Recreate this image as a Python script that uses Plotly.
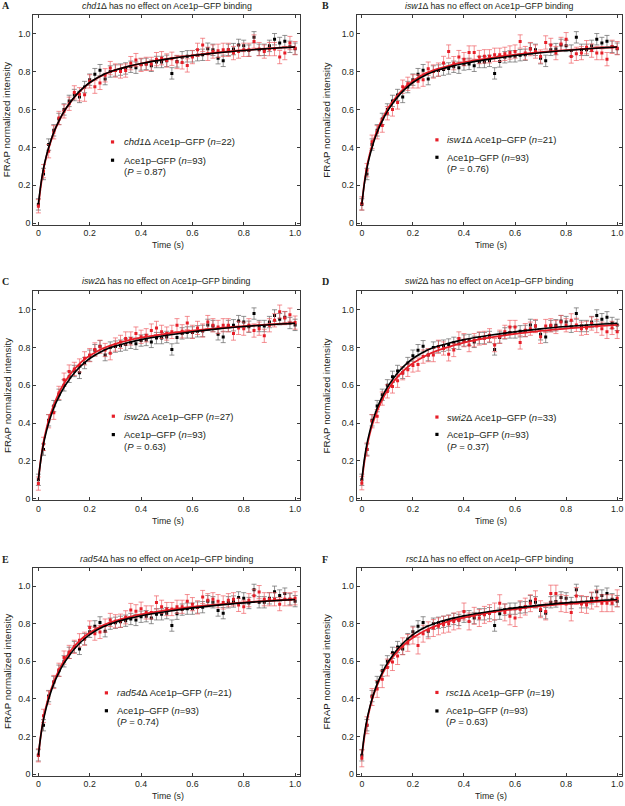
import plotly.graph_objects as go

# ---------------- data ----------------
TIME = [0.00, 0.02, 0.04, 0.06, 0.08, 0.10, 0.12, 0.14, 0.16, 0.18,
        0.20, 0.22, 0.24, 0.26, 0.28, 0.30, 0.32, 0.34, 0.36, 0.38,
        0.40, 0.42, 0.44, 0.46, 0.48, 0.50, 0.52, 0.54, 0.56, 0.58,
        0.60, 0.62, 0.64, 0.66, 0.68, 0.70, 0.72, 0.74, 0.76, 0.78,
        0.80, 0.82, 0.84, 0.86, 0.88, 0.90, 0.92, 0.94, 0.96, 0.98, 1.00]

FIT_TIME = [0.00, 0.01, 0.02, 0.03, 0.04, 0.06, 0.08, 0.10, 0.12, 0.14, 0.16, 0.18,
            0.20, 0.25, 0.30, 0.35, 0.40, 0.50, 0.60, 0.70, 0.80, 0.90, 1.00]

# wild-type Ace1p-GFP (n=93), same in all panels
WT = [0.10, 0.26, 0.415, 0.49, 0.55, 0.60, 0.645, 0.676, 0.666, 0.718,
      0.757, 0.786, 0.807, 0.76, 0.80, 0.805, 0.81, 0.816, 0.825, 0.82,
      0.837, 0.84, 0.83, 0.85, 0.85, 0.856, 0.79, 0.853, 0.875, 0.88,
      0.88, 0.886, 0.888, 0.92, 0.914, 0.87, 0.856, 0.914, 0.918, 0.94,
      0.935, 0.91, 0.98, 0.914, 0.914, 0.935, 0.97, 0.95, 0.96, 0.93, 0.92]
WT_FIT = [0.10, 0.21, 0.29, 0.35, 0.40, 0.48, 0.54, 0.59, 0.63, 0.665, 0.695, 0.72,
          0.742, 0.782, 0.808, 0.827, 0.842, 0.865, 0.884, 0.899, 0.911, 0.921, 0.929]
WT_ERR = 0.03

MUT_CHD1 = [0.09, 0.275, 0.38, 0.48, 0.555, 0.59, 0.63, 0.69, 0.68, 0.678,
            0.748, 0.72, 0.74, 0.78, 0.818, 0.805, 0.80, 0.805, 0.844, 0.86,
            0.835, 0.84, 0.84, 0.865, 0.87, 0.858, 0.867, 0.85, 0.848, 0.832,
            0.876, 0.914, 0.94, 0.893, 0.905, 0.909, 0.914, 0.914, 0.897, 0.905,
            0.914, 0.914, 0.958, 0.918, 0.905, 0.918, 0.918, 0.876, 0.897, 0.95, 0.923]
MUT_ISW1 = [0.105, 0.28, 0.43, 0.48, 0.515, 0.58, 0.60, 0.637, 0.72, 0.735,
            0.748, 0.748, 0.757, 0.815, 0.80, 0.81, 0.845, 0.905, 0.844, 0.876,
            0.865, 0.90, 0.90, 0.876, 0.88, 0.88, 0.888, 0.888, 0.893, 0.90,
            0.905, 0.958, 0.897, 0.918, 0.905, 0.879, 0.953, 0.94, 0.897, 0.945,
            0.97, 0.879, 0.893, 0.897, 0.928, 0.91, 0.897, 0.897, 0.865, 0.93, 0.923]
MUT_ISW2 = [0.08, 0.29, 0.41, 0.455, 0.56, 0.63, 0.673, 0.687, 0.705, 0.743,
            0.76, 0.79, 0.804, 0.787, 0.77, 0.816, 0.83, 0.848, 0.848, 0.874,
            0.857, 0.865, 0.89, 0.904, 0.883, 0.874, 0.883, 0.918, 0.886, 0.93,
            0.883, 0.904, 0.89, 0.935, 0.918, 0.909, 0.918, 0.918, 0.874, 0.904,
            0.90, 0.918, 0.89, 0.90, 0.862, 0.918, 0.944, 0.99, 0.956, 0.974, 0.932]
MUT_SWI2 = [0.082, 0.26, 0.41, 0.437, 0.53, 0.568, 0.594, 0.624, 0.664, 0.682,
            0.705, 0.71, 0.752, 0.76, 0.76, 0.804, 0.795, 0.764, 0.787, 0.848,
            0.839, 0.813, 0.839, 0.848, 0.851, 0.865, 0.813, 0.857, 0.883, 0.909,
            0.909, 0.827, 0.892, 0.90, 0.914, 0.857, 0.914, 0.918, 0.909, 0.935,
            0.918, 0.944, 0.92, 0.90, 0.904, 0.927, 0.914, 0.90, 0.883, 0.904, 0.883]
MUT_RAD54 = [0.10, 0.31, 0.407, 0.49, 0.555, 0.62, 0.65, 0.677, 0.712, 0.72,
             0.78, 0.747, 0.756, 0.79, 0.82, 0.813, 0.816, 0.834, 0.873, 0.866,
             0.88, 0.86, 0.86, 0.913, 0.89, 0.878, 0.878, 0.89, 0.89, 0.92,
             0.904, 0.887, 0.942, 0.925, 0.93, 0.92, 0.913, 0.925, 0.93, 0.90,
             0.89, 0.925, 0.948, 0.968, 0.93, 0.93, 0.93, 0.904, 0.93, 0.93, 0.935]
MUT_RSC1 = [0.084, 0.26, 0.41, 0.453, 0.505, 0.567, 0.596, 0.628, 0.68, 0.698,
            0.737, 0.684, 0.747, 0.765, 0.777, 0.786, 0.795, 0.80, 0.812, 0.818,
            0.865, 0.812, 0.842, 0.83, 0.847, 0.856, 0.865, 0.909, 0.86, 0.839,
            0.83, 0.877, 0.891, 0.909, 0.93, 0.877, 0.865, 0.96, 0.96, 0.909,
            0.905, 0.86, 0.947, 0.905, 0.90, 0.923, 0.935, 0.909, 0.909, 0.909, 0.935]

FIT_CHD1 = [0.09, 0.20, 0.285, 0.345, 0.395, 0.477, 0.538, 0.588, 0.628, 0.663, 0.693, 0.718,
            0.74, 0.78, 0.807, 0.826, 0.842, 0.866, 0.885, 0.90, 0.912, 0.922, 0.93]
FIT_ISW1 = [0.10, 0.215, 0.30, 0.36, 0.41, 0.49, 0.55, 0.60, 0.64, 0.675, 0.705, 0.73,
            0.75, 0.79, 0.815, 0.834, 0.849, 0.871, 0.889, 0.902, 0.913, 0.922, 0.929]
FIT_ISW2 = [0.10, 0.215, 0.30, 0.362, 0.415, 0.495, 0.56, 0.61, 0.65, 0.685, 0.714, 0.738,
            0.757, 0.795, 0.82, 0.838, 0.852, 0.874, 0.89, 0.903, 0.913, 0.922, 0.93]
FIT_SWI2 = [0.09, 0.195, 0.275, 0.337, 0.388, 0.465, 0.525, 0.572, 0.612, 0.645, 0.673, 0.697,
            0.717, 0.757, 0.786, 0.808, 0.826, 0.852, 0.872, 0.888, 0.90, 0.911, 0.92]
FIT_RAD54 = [0.10, 0.212, 0.298, 0.36, 0.41, 0.49, 0.553, 0.603, 0.645, 0.68, 0.708, 0.733,
             0.752, 0.79, 0.815, 0.834, 0.849, 0.872, 0.889, 0.902, 0.913, 0.922, 0.93]
FIT_RSC1 = [0.09, 0.198, 0.28, 0.342, 0.395, 0.472, 0.532, 0.58, 0.62, 0.653, 0.681, 0.705,
            0.725, 0.765, 0.794, 0.816, 0.833, 0.859, 0.878, 0.893, 0.905, 0.915, 0.924]

GENES = ["chd1", "isw1", "isw2", "swi2", "rad54", "rsc1"]
PANEL_LETTERS = ["A", "B", "C", "D", "E", "F"]
N_MUT = [22, 21, 27, 33, 21, 19]
N_WT = 93
P_VALUES = ["0.87", "0.76", "0.63", "0.37", "0.74", "0.63"]
MUT_DATA = [MUT_CHD1, MUT_ISW1, MUT_ISW2, MUT_SWI2, MUT_RAD54, MUT_RSC1]
MUT_FITS = [FIT_CHD1, FIT_ISW1, FIT_ISW2, FIT_SWI2, FIT_RAD54, FIT_RSC1]
MUT_ERR = [0.035, 0.035, 0.035, 0.035, 0.035, 0.045]

TICK_VALS = [0, 0.2, 0.4, 0.6, 0.8, 1.0]
TICK_TEXT = ["0", "0.2", "0.4", "0.6", "0.8", "1.0"]

for arr in [WT] + MUT_DATA:
    assert len(arr) == len(TIME)
for arr in [WT_FIT] + MUT_FITS:
    assert len(arr) == len(FIT_TIME)

# ---------------- styling / layout ----------------
W, H = 625, 806
FONT = "Liberation Sans, Arial, Helvetica, sans-serif"
TXT = "#231f20"
RED = "rgb(230,30,40)"
RED_BAR = "rgba(238,90,95,0.85)"
GREY_BAR = "rgba(105,105,105,0.9)"

COLS = [(33.3, 300.7), (357.3, 623.3)]          # px left/right
ROWS = [(15.0, 226.0), (292.7, 502.7), (570.5, 779.5)]  # px top/bottom
TITLE_Y = [6.0, 282.5, 562.0]
LETTER_X = [6.0, 326.0]
YLAB_X = [7.3, 327.3]
LEG_X = [(0.297, 0.331), (0.302, 0.333), (0.300, 0.331),
         (0.302, 0.333), (0.274, 0.305), (0.302, 0.330)]
LEG_Y = [(0.395, 0.308, 0.253), (0.405, 0.322, 0.268), (0.402, 0.314, 0.259),
         (0.398, 0.315, 0.259), (0.398, 0.312, 0.259), (0.400, 0.311, 0.259)]


def px(x):
    return x / W


def py(y):
    return 1 - y / H


fig = go.Figure()
annotations = []
shapes = []
layout_axes = {}

for i in range(6):
    r, c = divmod(i, 2)
    k = i + 1
    xa = "x" if k == 1 else f"x{k}"
    ya = "y" if k == 1 else f"y{k}"
    l, rr = COLS[c]
    t, b = ROWS[r]

    # data points
    fig.add_trace(go.Scatter(
        x=TIME, y=WT, mode="markers", xaxis=xa, yaxis=ya, showlegend=False,
        marker=dict(symbol="square", size=3, color="black"),
        error_y=dict(type="constant", value=WT_ERR, color=GREY_BAR,
                     thickness=0.8, width=2.5)))
    fig.add_trace(go.Scatter(
        x=TIME, y=MUT_DATA[i], mode="markers", xaxis=xa, yaxis=ya, showlegend=False,
        marker=dict(symbol="square", size=3, color=RED),
        error_y=dict(type="constant", value=MUT_ERR[i], color=RED_BAR,
                     thickness=0.8, width=2.5)))
    # fitted curves
    fig.add_trace(go.Scatter(
        x=FIT_TIME, y=MUT_FITS[i], mode="lines", xaxis=xa, yaxis=ya, showlegend=False,
        line=dict(color=RED, width=1.8, shape="spline")))
    fig.add_trace(go.Scatter(
        x=FIT_TIME, y=WT_FIT, mode="lines", xaxis=xa, yaxis=ya, showlegend=False,
        line=dict(color="black", width=1.6, shape="spline")))

    axis_common = dict(showgrid=False, zeroline=False, showline=True,
                       linecolor="#3a3a3a", linewidth=1, mirror="ticks",
                       ticks="inside", ticklen=3, tickwidth=1, tickcolor="#3a3a3a",
                       tickvals=TICK_VALS, ticktext=TICK_TEXT,
                       tickfont=dict(family=FONT, size=8.8, color=TXT))
    layout_axes["xaxis" if k == 1 else f"xaxis{k}"] = dict(
        axis_common, domain=[px(l), px(rr)], range=[-0.02, 1.02], anchor=ya)
    layout_axes["yaxis" if k == 1 else f"yaxis{k}"] = dict(
        axis_common, domain=[py(b), py(t)], range=[-0.008, 1.098], anchor=xa)

    # panel letter
    annotations.append(dict(
        text=f"<b>{PANEL_LETTERS[i]}</b>", x=px(LETTER_X[c]), y=py(TITLE_Y[r]),
        xref="paper", yref="paper", xanchor="center", yanchor="middle",
        showarrow=False, font=dict(family="Liberation Serif, Times New Roman, serif",
                                   size=10, color=TXT)))
    # title
    annotations.append(dict(
        text=f"<i>{GENES[i]}</i>\u0394 has no effect on Ace1p\u2013GFP binding",
        x=px((l + rr) / 2), y=py(TITLE_Y[r]), xref="paper", yref="paper",
        xanchor="center", yanchor="middle", showarrow=False,
        font=dict(family=FONT, size=8.8, color=TXT)))
    # axis titles
    annotations.append(dict(
        text="Time (s)", x=px((l + rr) / 2 + 1), y=py(b + 20.5), xref="paper", yref="paper",
        xanchor="center", yanchor="middle", showarrow=False,
        font=dict(family=FONT, size=8.8, color=TXT)))
    annotations.append(dict(
        text="FRAP normalized intensity", x=px(YLAB_X[c]), y=py((t + b) / 2),
        xref="paper", yref="paper", xanchor="center", yanchor="middle",
        textangle=-90, showarrow=False, font=dict(family=FONT, size=9.8, color=TXT)))

    # legend (keys + labels)
    dx, tx = LEG_X[i]
    yr, yb, yp = LEG_Y[i]
    kx = l + dx * (rr - l)
    txp = l + tx * (rr - l)
    labels = [
        (yr, f"<i>{GENES[i]}</i>\u0394 Ace1p\u2013GFP (<i>n</i>={N_MUT[i]})", RED),
        (yb, f"Ace1p\u2013GFP (<i>n</i>={N_WT})", "black"),
        (yp, f"(<i>P</i> = {P_VALUES[i]})", None),
    ]
    for fy, label, keycol in labels:
        ypx = b - fy * (b - t)
        annotations.append(dict(
            text=label, x=px(txp), y=py(ypx), xref="paper", yref="paper",
            xanchor="left", yanchor="middle", showarrow=False,
            font=dict(family=FONT, size=9.5, color=TXT)))
        if keycol:
            shapes.append(dict(type="rect", xref="paper", yref="paper",
                               x0=px(kx - 1.6), x1=px(kx + 1.6),
                               y0=py(ypx + 1.6), y1=py(ypx - 1.6),
                               fillcolor=keycol, line=dict(width=0)))

fig.update_layout(
    width=W, height=H, autosize=False,
    margin=dict(l=0, r=0, t=0, b=0),
    paper_bgcolor="white", plot_bgcolor="white",
    showlegend=False, hovermode=False,
    annotations=annotations, shapes=shapes,
    font=dict(family=FONT, color=TXT),
    **layout_axes,
)

fig.write_html(
    "out.html",
    config={"displayModeBar": False, "staticPlot": True},
    post_script="document.body.style.margin='0px';document.body.style.padding='0px';"
                "document.body.style.overflow='hidden';",
)
